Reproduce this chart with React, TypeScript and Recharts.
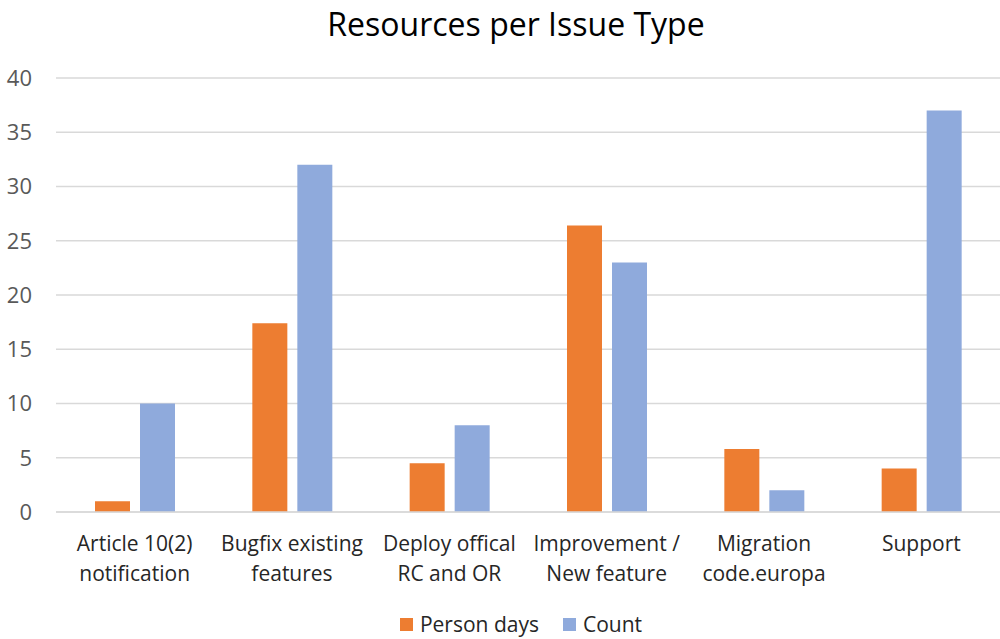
import React from "react";
import { BarChart, Bar, XAxis, YAxis, CartesianGrid, Legend } from "recharts";

const categories = [
  "Article 10(2)\nnotification",
  "Bugfix existing\nfeatures",
  "Deploy offical\nRC and OR",
  "Improvement /\nNew feature",
  "Migration\ncode.europa",
  "Support",
];
const personDays = [1, 17.4, 4.5, 26.4, 5.8, 4];
const count = [10, 32, 8, 23, 2, 37];
const yTicks = [0, 5, 10, 15, 20, 25, 30, 35, 40];

const ORANGE = "#ED7D31";
const BLUE = "#8FAADC";
const FONT = "'Open Sans', sans-serif";

const data = categories.map((name, i) => ({
  name,
  personDays: personDays[i],
  count: count[i],
}));

const CategoryTick = (props: any) => {
  const { x, y, payload } = props;
  const lines = String(payload.value).split("\n");
  return (
    <g transform={`translate(${x},${y})`}>
      {lines.map((line: string, i: number) => (
        <text
          key={i}
          x={0}
          y={31 + i * 30}
          textAnchor="middle"
          fill="#262626"
          fontSize={21}
          fontFamily={FONT}
        >
          {line}
        </text>
      ))}
    </g>
  );
};

const LegendContent = () => {
  const items = [
    { label: "Person days", color: ORANGE },
    { label: "Count", color: BLUE },
  ];
  return (
    <div
      style={{
        display: "flex",
        justifyContent: "center",
        fontFamily: FONT,
        fontSize: 21,
        color: "#262626",
        marginTop: 18,
        paddingLeft: 42,
      }}
    >
      {items.map((it) => (
        <div key={it.label} style={{ display: "flex", alignItems: "center", margin: "0 12px" }}>
          <span style={{ width: 13, height: 13, background: it.color, marginRight: 7, display: "inline-block" }} />
          <span>{it.label}</span>
        </div>
      ))}
    </div>
  );
};

export default function App() {
  return (
    <div style={{ position: "absolute", left: 0, top: 0, width: 1000, height: 639, background: "#fff" }}>
      <div
        style={{
          position: "absolute",
          top: 2,
          left: 0,
          width: 1032,
          textAlign: "center",
          fontFamily: FONT,
          fontSize: 32,
          color: "#000",
        }}
      >
        Resources per Issue Type
      </div>
      <BarChart
        width={1000}
        height={639}
        data={data}
        margin={{ top: 78, right: 0, left: 0, bottom: 10 }}
        barSize={35}
        barGap={10}
      >
        <CartesianGrid vertical={false} stroke="#d9d9d9" strokeWidth={1.5} />
        <XAxis
          dataKey="name"
          height={80}
          interval={0}
          tick={<CategoryTick />}
          tickLine={false}
          axisLine={{ stroke: "#d9d9d9", strokeWidth: 1.5 }}
        />
        <YAxis
          width={56}
          domain={[0, 40]}
          ticks={yTicks}
          axisLine={false}
          tickLine={false}
          tick={{ fill: "#595959", fontSize: 22, fontFamily: FONT }}
          tickMargin={18}
        />
        <Legend verticalAlign="bottom" wrapperStyle={{ height: 37 }} content={<LegendContent />} />
        <Bar dataKey="personDays" name="Person days" fill={ORANGE} isAnimationActive={false} />
        <Bar dataKey="count" name="Count" fill={BLUE} isAnimationActive={false} />
      </BarChart>
    </div>
  );
}
